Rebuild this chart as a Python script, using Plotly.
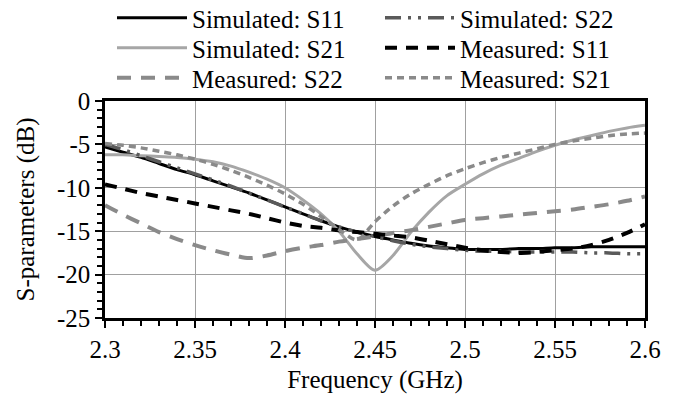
import plotly.graph_objects as go

freq = [2.30, 2.31, 2.32, 2.33, 2.34, 2.35, 2.36, 2.37, 2.38, 2.39,
        2.40, 2.41, 2.42, 2.43, 2.44, 2.45, 2.46, 2.47, 2.48, 2.49,
        2.50, 2.51, 2.52, 2.53, 2.54, 2.55, 2.56, 2.57, 2.58, 2.59, 2.60]

sim_s11 = [-5.3, -5.9, -6.5, -7.2, -7.9, -8.5, -9.2, -9.9, -10.6, -11.4,
           -12.2, -13.0, -13.8, -14.5, -15.1, -15.6, -16.0, -16.4, -16.7, -16.9,
           -17.1, -17.1, -17.1, -17.0, -17.0, -16.9, -16.9, -16.8, -16.8, -16.8, -16.8]

sim_s22 = [-5.0, -5.6, -6.3, -7.0, -7.7, -8.4, -9.1, -9.8, -10.6, -11.4,
           -12.2, -13.0, -13.8, -14.5, -15.1, -15.6, -16.1, -16.5, -16.8, -17.0,
           -17.2, -17.3, -17.3, -17.4, -17.4, -17.4, -17.4, -17.5, -17.5, -17.6, -17.6]

sim_s21 = [-6.2, -6.2, -6.3, -6.4, -6.5, -6.7, -7.0, -7.5, -8.2, -9.0,
           -10.0, -11.4, -13.0, -15.0, -17.6, -19.5, -17.8, -15.1, -12.8, -10.9,
           -9.6, -8.4, -7.4, -6.6, -5.8, -5.1, -4.5, -4.0, -3.5, -3.1, -2.8]

meas_s11 = [-9.6, -10.1, -10.6, -11.0, -11.4, -11.8, -12.2, -12.6, -13.0, -13.5,
            -14.0, -14.4, -14.6, -14.9, -15.1, -15.3, -15.5, -15.7, -16.1, -16.5,
            -16.9, -17.2, -17.4, -17.5, -17.4, -17.2, -17.0, -16.6, -16.0, -15.2, -14.2]

meas_s22 = [-12.0, -13.1, -14.1, -15.1, -15.9, -16.6, -17.2, -17.7, -18.1, -17.8,
            -17.3, -16.9, -16.6, -16.2, -15.9, -15.6, -15.2, -14.9, -14.5, -14.1,
            -13.7, -13.5, -13.3, -13.1, -12.9, -12.7, -12.5, -12.2, -11.9, -11.5, -11.0]

meas_s21 = [-4.9, -5.1, -5.4, -5.8, -6.2, -6.7, -7.3, -8.0, -8.8, -9.7,
            -10.7, -11.9, -13.3, -14.8, -16.0, -13.9, -12.1, -10.7, -9.6, -8.6,
            -7.8, -7.1, -6.5, -6.0, -5.5, -5.0, -4.6, -4.3, -4.0, -3.8, -3.7]

x_ticks = [2.3, 2.35, 2.4, 2.45, 2.5, 2.55, 2.6]
x_tick_text = ["2.3", "2.35", "2.4", "2.45", "2.5", "2.55", "2.6"]
y_ticks = [0, -5, -10, -15, -20, -25]
y_tick_text = ["0", "-5", "-10", "-15", "-20", "-25"]
x_title = "Frequency (GHz)"
y_title = "S-parameters (dB)"

FONT = "Liberation Serif"
FS = 25

# name, values, colour, dash, width, legend column, legend row
series = [
    ("Simulated: S11", sim_s11, "#000000", "solid", 3, 0, 0),
    ("Simulated: S21", sim_s21, "#a6a6a6", "solid", 3, 0, 1),
    ("Measured: S22", meas_s22, "#8a8a8a", "14px,10px", 4, 0, 2),
    ("Simulated: S22", sim_s22, "#5a5a5a", "16px,7px,3px,7px,3px,7px", 3.5, 1, 0),
    ("Measured: S11", meas_s11, "#000000", "12px,9px", 4, 1, 1),
    ("Measured: S21", meas_s21, "#8a8a8a", "7px,5px", 3.5, 1, 2),
]

col_x = [112, 380]
row_y = [18, 48, 78]

fig = go.Figure()
legends = {}
for i, (name, vals, color, dash, w, col, row) in enumerate(series):
    key = "legend" if i == 0 else f"legend{i + 1}"
    fig.add_trace(go.Scatter(
        x=freq, y=vals, name=name, mode="lines", showlegend=True,
        line=dict(color=color, dash=dash, width=w, shape="spline", smoothing=0.8),
        legend=key,
    ))
    legends[key] = dict(
        font=dict(family=FONT, size=FS, color="black"),
        bgcolor="rgba(0,0,0,0)",
        orientation="v",
        xref="container", yref="container",
        x=col_x[col] / 688, y=1 - row_y[row] / 394,
        xanchor="left", yanchor="middle",
        itemwidth=70,
    )

fig.update_layout(
    width=688, height=394,
    showlegend=True,
    margin=dict(l=105, r=43, t=101, b=76, autoexpand=False),
    paper_bgcolor="white", plot_bgcolor="white",
    font=dict(family=FONT, size=FS, color="black"),
    xaxis=dict(
        range=[2.3, 2.6], tickvals=x_ticks, ticktext=x_tick_text,
        showgrid=True, gridcolor="#a0a0a0", gridwidth=1,
        showline=True, linecolor="black", linewidth=2.5, mirror=True,
        ticks="outside", ticklen=7, tickwidth=2, tickcolor="black",
        minor=dict(dtick=0.01, ticks="outside", ticklen=5, tickwidth=2, tickcolor="black", showgrid=False),
        title=dict(text=x_title, font=dict(family=FONT, size=FS)),
        tickfont=dict(family=FONT, size=FS), zeroline=False, automargin=False,
    ),
    yaxis=dict(
        range=[-25, 0], tickvals=y_ticks, ticktext=y_tick_text,
        showgrid=True, gridcolor="#a0a0a0", gridwidth=1,
        showline=True, linecolor="black", linewidth=2.5, mirror=True,
        ticks="outside", ticklen=7, tickwidth=2, tickcolor="black",
        minor=dict(dtick=1, ticks="outside", ticklen=5, tickwidth=2, tickcolor="black", showgrid=False),
        tickfont=dict(family=FONT, size=FS), zeroline=False, automargin=False,
    ),
    annotations=[dict(
        text=y_title, textangle=-90, showarrow=False,
        xref="paper", yref="paper", x=(25 - 105) / 540, y=0.5,
        xanchor="center", yanchor="middle",
        font=dict(family=FONT, size=FS, color="black"),
    )],
    **legends,
)

fig.write_html("out.html")
